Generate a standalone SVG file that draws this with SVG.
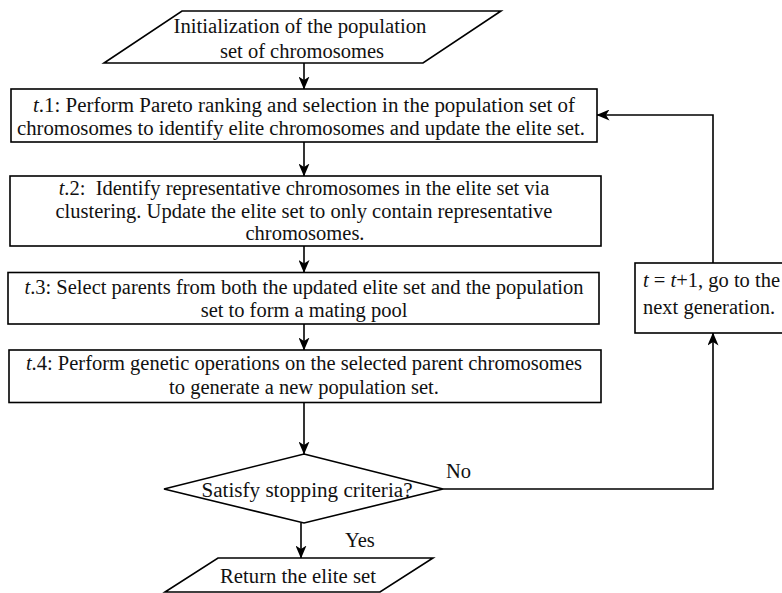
<svg xmlns="http://www.w3.org/2000/svg" width="782" height="593" viewBox="0 0 782 593">
<style>
.shape{fill:#fff;stroke:#000;stroke-width:1.6}
.conn{fill:none;stroke:#000;stroke-width:1.6}
text{font-family:"Liberation Serif","Times New Roman",serif;font-size:20.5px;fill:#111;white-space:pre}
.c{text-anchor:middle}
.i{font-style:italic}
</style>
<defs>
<marker id="ah" viewBox="0 0 13 11" refX="12.5" refY="5.5" markerWidth="13" markerHeight="11" markerUnits="userSpaceOnUse" orient="auto">
<path d="M0,0 L13,5.5 L0,11 L3.5,5.5 Z" fill="#000"/>
</marker>
</defs>
<g id="connectors">
<line class="conn" x1="304" y1="63" x2="304" y2="89" marker-end="url(#ah)"/>
<line class="conn" x1="304" y1="142" x2="304" y2="176" marker-end="url(#ah)"/>
<line class="conn" x1="304" y1="246" x2="304" y2="272.5" marker-end="url(#ah)"/>
<line class="conn" x1="304" y1="324" x2="304" y2="350" marker-end="url(#ah)"/>
<line class="conn" x1="304" y1="402.5" x2="304" y2="454" marker-end="url(#ah)"/>
<line class="conn" x1="301" y1="523" x2="301" y2="558" marker-end="url(#ah)"/>
<polyline class="conn" points="443,489 713,489 713,333" marker-end="url(#ah)"/>
<polyline class="conn" points="713,263 713,115 597,115" marker-end="url(#ah)"/>
<text x="446" y="478">No</text>
<text x="345" y="547">Yes</text>
</g>
<g id="init">
<polygon class="shape" points="182,11 501,11 423,63 104,63"/>
<text class="c" x="300" y="33" textLength="253" lengthAdjust="spacingAndGlyphs">Initialization of the population</text>
<text class="c" x="302" y="58">set of chromosomes</text>
</g>
<g id="t1">
<rect class="shape" x="11" y="89" width="586" height="53"/>
<text class="c" x="304" y="111.5" textLength="542" lengthAdjust="spacingAndGlyphs"><tspan class="i">t</tspan>.1: Perform Pareto ranking and selection in the population set of</text>
<text class="c" x="301" y="135" textLength="568" lengthAdjust="spacingAndGlyphs">chromosomes to identify elite chromosomes and update the elite set.</text>
</g>
<g id="t2">
<rect class="shape" x="10" y="176" width="591" height="70"/>
<text class="c" x="304" y="195"><tspan class="i">t</tspan>.2:  Identify representative chromosomes in the elite set via</text>
<text class="c" x="304" y="217.5">clustering. Update the elite set to only contain representative</text>
<text class="c" x="305" y="240">chromosomes.</text>
</g>
<g id="t3">
<rect class="shape" x="8" y="272.5" width="591" height="51.5"/>
<text class="c" x="304" y="293.5"><tspan class="i">t</tspan>.3: Select parents from both the updated elite set and the population</text>
<text class="c" x="304" y="317">set to form a mating pool</text>
</g>
<g id="t4">
<rect class="shape" x="9" y="350" width="592" height="52.5"/>
<text class="c" x="304" y="370"><tspan class="i">t</tspan>.4: Perform genetic operations on the selected parent chromosomes</text>
<text class="c" x="304" y="393.5">to generate a new population set.</text>
</g>
<g id="next">
<rect class="shape" x="635" y="263" width="170" height="70"/>
<text x="643" y="287"><tspan class="i">t</tspan> = <tspan class="i">t</tspan>+1, go to the</text>
<text x="643" y="314">next generation.</text>
</g>
<g id="decision">
<polygon class="shape" points="304,454 443,489 304,523 164,489"/>
<text class="c" x="307" y="497" textLength="211" lengthAdjust="spacingAndGlyphs">Satisfy stopping criteria?</text>
</g>
<g id="return">
<polygon class="shape" points="218,558 433,558 380,592 165,592"/>
<text class="c" x="298" y="583" textLength="156" lengthAdjust="spacingAndGlyphs">Return the elite set</text>
</g>
</svg>
